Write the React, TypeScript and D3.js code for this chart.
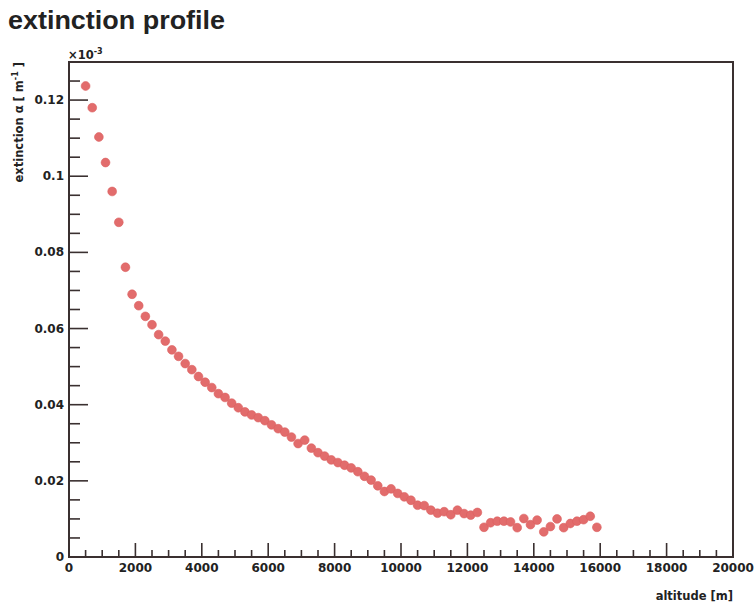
import React from 'react';
import * as d3 from 'd3';

// altitude [m]
const altitudes = [
  500, 700, 900, 1100, 1300, 1500, 1700, 1900, 2100, 2300,
  2500, 2700, 2900, 3100, 3300, 3500, 3700, 3900, 4100, 4300,
  4500, 4700, 4900, 5100, 5300, 5500, 5700, 5900, 6100, 6300,
  6500, 6700, 6900, 7100, 7300, 7500, 7700, 7900, 8100, 8300,
  8500, 8700, 8900, 9100, 9300, 9500, 9700, 9900, 10100, 10300,
  10500, 10700, 10900, 11100, 11300, 11500, 11700, 11900, 12100, 12300,
  12500, 12700, 12900, 13100, 13300, 13500, 13700, 13900, 14100, 14300,
  14500, 14700, 14900, 15100, 15300, 15500, 15700, 15900,
];

// extinction alpha [x10^-3 m^-1]
const extinction = [
  0.1237, 0.118, 0.1103, 0.1036, 0.096, 0.0879, 0.0761, 0.069, 0.066, 0.0632,
  0.061, 0.0584, 0.0567, 0.0544, 0.0527, 0.0508, 0.0492, 0.0474, 0.0459, 0.0445,
  0.0429, 0.0419, 0.0404, 0.0392, 0.0381, 0.0373, 0.0366, 0.0358, 0.0347, 0.0337,
  0.0328, 0.0315, 0.0298, 0.0307, 0.0286, 0.0274, 0.0265, 0.0255, 0.0248, 0.0241,
  0.0234, 0.0224, 0.0212, 0.0202, 0.0187, 0.0172, 0.0179, 0.0167, 0.0158, 0.0149,
  0.0136, 0.0135, 0.0123, 0.0115, 0.0119, 0.0111, 0.0123, 0.0114, 0.011, 0.0117,
  0.0078, 0.009, 0.0094, 0.0094, 0.0092, 0.0077, 0.0101, 0.0085, 0.0097, 0.0066,
  0.008, 0.01, 0.0077, 0.0088, 0.0094, 0.0098, 0.0107, 0.0078,
];

const xTicks = [0, 2000, 4000, 6000, 8000, 10000, 12000, 14000, 16000, 18000, 20000];
const xTickLabels = ['0', '2000', '4000', '6000', '8000', '10000', '12000', '14000', '16000', '18000', '20000'];
const yTicks = [0, 0.02, 0.04, 0.06, 0.08, 0.1, 0.12];
const yTickLabels = ['0', '0.02', '0.04', '0.06', '0.08', '0.1', '0.12'];

const W = 755;
const H = 604;
const frame = { left: 69, right: 733, top: 62, bottom: 557 };
const axisColor = '#3a3030';
const font = '"DejaVu Sans", sans-serif';

export default function App() {
  const x = d3.scaleLinear().domain([0, 20000]).range([frame.left, frame.right]);
  const y = d3.scaleLinear().domain([0, 0.13]).range([frame.bottom, frame.top]);

  const xMinor = d3.range(0, 20000 + 1, 500).filter(v => v % 2000 !== 0);
  const yMinor = d3.range(0, 0.13, 0.005).filter(v => Math.abs(v / 0.02 - Math.round(v / 0.02)) > 1e-6);

  const points = altitudes.map((a, i) => ({ a, v: extinction[i] }));

  return (
    <svg width={W} height={H} style={{ position: 'absolute', left: 0, top: 0, background: '#fff' }}>
      <text x={8} y={29} fontFamily='"Liberation Sans", Arial, sans-serif' fontWeight="bold" fontSize={25}
        fill="#222" textLength={217} lengthAdjust="spacingAndGlyphs">extinction profile</text>

      {/* data */}
      <g>
        {points.map((p, i) => (
          <circle key={i} cx={x(p.a)} cy={y(p.v)} r={4.4} fill="#e26c6c" stroke="#db6060" strokeWidth={0.6} />
        ))}
      </g>

      {/* frame */}
      <rect x={frame.left} y={frame.top} width={frame.right - frame.left} height={frame.bottom - frame.top}
        fill="none" stroke={axisColor} strokeWidth={2} />

      {/* ticks */}
      <g stroke={axisColor} strokeWidth={1.6}>
        {xTicks.map(t => (
          <line key={'xM' + t} x1={x(t)} x2={x(t)} y1={frame.bottom} y2={frame.bottom - 14} />
        ))}
        {xMinor.map(t => (
          <line key={'xm' + t} x1={x(t)} x2={x(t)} y1={frame.bottom} y2={frame.bottom - 7} />
        ))}
        {yTicks.map(t => (
          <line key={'yM' + t} y1={y(t)} y2={y(t)} x1={frame.left} x2={frame.left + 19} />
        ))}
        {yMinor.map(t => (
          <line key={'ym' + t} y1={y(t)} y2={y(t)} x1={frame.left} x2={frame.left + 11} />
        ))}
      </g>

      <g fontFamily={font} fontWeight="bold" fontSize={12} fill="#222">
        {xTicks.map((t, i) => (
          <text key={'xl' + t} x={x(t)} y={frame.bottom + 15} textAnchor="middle">{xTickLabels[i]}</text>
        ))}
        {yTicks.map((t, i) => (
          <text key={'yl' + t} x={frame.left - 5} y={y(t) + 4} textAnchor="end">{yTickLabels[i]}</text>
        ))}
      </g>

      <text x={frame.left - 1} y={frame.top - 3} fontFamily={font} fontWeight="bold" fontSize={11.5} fill="#222">
        ×10<tspan dy={-5} fontSize={8}>-3</tspan>
      </text>

      <text x={frame.right} y={600} textAnchor="end" fontFamily={font} fontWeight="bold" fontSize={11.5} fill="#222">
        altitude [m]
      </text>

      <text transform={`translate(23, ${frame.top}) rotate(-90)`} textAnchor="end"
        fontFamily={font} fontWeight="bold" fontSize={11.5} fill="#222">
        extinction α [ m<tspan dy={-5} fontSize={8}>-1</tspan><tspan dy={5}> ]</tspan>
      </text>
    </svg>
  );
}
